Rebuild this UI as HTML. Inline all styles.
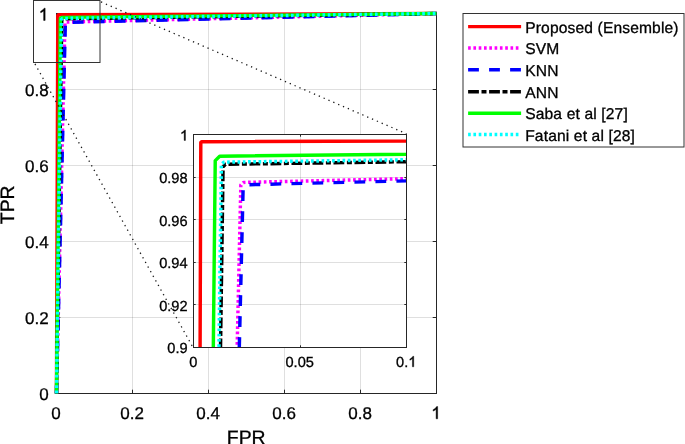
<!DOCTYPE html><html><head><meta charset="utf-8"><style>html,body{margin:0;padding:0;background:#fff;overflow:hidden}svg{display:block;will-change:transform}text{font-family:"Liberation Sans", sans-serif;text-rendering:geometricPrecision;stroke:#000;stroke-width:0.3px;fill:#000}</style></head><body>
<svg width="685" height="444" viewBox="0 0 685 444">
<rect x="0" y="0" width="685" height="444" fill="#fff"/>
<line x1="132.50" y1="13.50" x2="132.50" y2="393.50" stroke="#262626" stroke-opacity="0.15" stroke-width="1"/>
<line x1="56.50" y1="317.50" x2="436.50" y2="317.50" stroke="#262626" stroke-opacity="0.15" stroke-width="1"/>
<line x1="208.50" y1="13.50" x2="208.50" y2="393.50" stroke="#262626" stroke-opacity="0.15" stroke-width="1"/>
<line x1="56.50" y1="241.50" x2="436.50" y2="241.50" stroke="#262626" stroke-opacity="0.15" stroke-width="1"/>
<line x1="284.50" y1="13.50" x2="284.50" y2="393.50" stroke="#262626" stroke-opacity="0.15" stroke-width="1"/>
<line x1="56.50" y1="165.50" x2="436.50" y2="165.50" stroke="#262626" stroke-opacity="0.15" stroke-width="1"/>
<line x1="360.50" y1="13.50" x2="360.50" y2="393.50" stroke="#262626" stroke-opacity="0.15" stroke-width="1"/>
<line x1="56.50" y1="89.50" x2="436.50" y2="89.50" stroke="#262626" stroke-opacity="0.15" stroke-width="1"/>
<rect x="56.50" y="13.50" width="380.00" height="380.00" fill="none" stroke="#262626" stroke-width="1"/>
<line x1="56.50" y1="393.50" x2="56.50" y2="389.70" stroke="#262626"/>
<line x1="56.50" y1="13.50" x2="56.50" y2="17.30" stroke="#262626"/>
<line x1="56.50" y1="393.50" x2="60.30" y2="393.50" stroke="#262626"/>
<line x1="436.50" y1="393.50" x2="432.70" y2="393.50" stroke="#262626"/>
<line x1="132.50" y1="393.50" x2="132.50" y2="389.70" stroke="#262626"/>
<line x1="132.50" y1="13.50" x2="132.50" y2="17.30" stroke="#262626"/>
<line x1="56.50" y1="317.50" x2="60.30" y2="317.50" stroke="#262626"/>
<line x1="436.50" y1="317.50" x2="432.70" y2="317.50" stroke="#262626"/>
<line x1="208.50" y1="393.50" x2="208.50" y2="389.70" stroke="#262626"/>
<line x1="208.50" y1="13.50" x2="208.50" y2="17.30" stroke="#262626"/>
<line x1="56.50" y1="241.50" x2="60.30" y2="241.50" stroke="#262626"/>
<line x1="436.50" y1="241.50" x2="432.70" y2="241.50" stroke="#262626"/>
<line x1="284.50" y1="393.50" x2="284.50" y2="389.70" stroke="#262626"/>
<line x1="284.50" y1="13.50" x2="284.50" y2="17.30" stroke="#262626"/>
<line x1="56.50" y1="165.50" x2="60.30" y2="165.50" stroke="#262626"/>
<line x1="436.50" y1="165.50" x2="432.70" y2="165.50" stroke="#262626"/>
<line x1="360.50" y1="393.50" x2="360.50" y2="389.70" stroke="#262626"/>
<line x1="360.50" y1="13.50" x2="360.50" y2="17.30" stroke="#262626"/>
<line x1="56.50" y1="89.50" x2="60.30" y2="89.50" stroke="#262626"/>
<line x1="436.50" y1="89.50" x2="432.70" y2="89.50" stroke="#262626"/>
<line x1="436.50" y1="393.50" x2="436.50" y2="389.70" stroke="#262626"/>
<line x1="436.50" y1="13.50" x2="436.50" y2="17.30" stroke="#262626"/>
<line x1="56.50" y1="13.50" x2="60.30" y2="13.50" stroke="#262626"/>
<line x1="436.50" y1="13.50" x2="432.70" y2="13.50" stroke="#262626"/>
<text x="56.10" y="418.80" font-size="17.00" text-anchor="middle">0</text>
<text x="48.60" y="400.00" font-size="17.00" text-anchor="end">0</text>
<text x="132.10" y="418.80" font-size="17.00" text-anchor="middle">0.2</text>
<text x="48.60" y="324.00" font-size="17.00" text-anchor="end">0.2</text>
<text x="208.10" y="418.80" font-size="17.00" text-anchor="middle">0.4</text>
<text x="48.60" y="248.00" font-size="17.00" text-anchor="end">0.4</text>
<text x="284.10" y="418.80" font-size="17.00" text-anchor="middle">0.6</text>
<text x="48.60" y="172.00" font-size="17.00" text-anchor="end">0.6</text>
<text x="360.10" y="418.80" font-size="17.00" text-anchor="middle">0.8</text>
<text x="48.60" y="96.00" font-size="17.00" text-anchor="end">0.8</text>
<path d="M763 0L583 0L583 1147Q518 1085 412 1023Q306 961 222 930L222 1104Q373 1175 486 1276Q599 1377 646 1472L763 1472Z" transform="translate(431.30 418.80) scale(0.00830 -0.00830)" fill="#000" stroke="#000" stroke-width="54.2" stroke-linejoin="round"/>
<path d="M763 0L583 0L583 1147Q518 1085 412 1023Q306 961 222 930L222 1104Q373 1175 486 1276Q599 1377 646 1472L763 1472Z" transform="translate(38.80 20.40) scale(0.00830 -0.00830)" fill="#000" stroke="#000" stroke-width="54.2" stroke-linejoin="round"/>
<text x="246.20" y="443.60" font-size="19.40" text-anchor="middle">FPR</text>
<text x="0" y="0" font-size="19.40" text-anchor="middle" transform="translate(14.00,204.80) rotate(-90)">TPR</text>
<defs><clipPath id="mainclip"><rect x="53.50" y="10.50" width="386.00" height="386.00"/></clipPath>
<clipPath id="insclip"><rect x="193.50" y="134.50" width="213.00" height="213.00"/></clipPath></defs>
<path d="M56.50 393.50 L57.80 15.39 L58.40 14.79 L436.50 13.50" fill="none" stroke="#ff0000" stroke-width="3.45" stroke-linejoin="round"/>
<path d="M56.50 393.50 L64.93 23.06 L65.95 22.04 L436.50 13.50" fill="none" stroke="#ff00ff" stroke-width="3.45" stroke-linejoin="round" stroke-dasharray="2.65 2.6"/>
<path d="M56.50 393.50 L65.34 23.48 L66.37 22.45 L436.50 13.50" fill="none" stroke="#0000ff" stroke-width="3.45" stroke-linejoin="round" stroke-dasharray="10.8 10.2"/>
<path d="M56.50 393.50 L61.77 19.82 L62.78 18.81 L436.50 13.50" fill="none" stroke="#000000" stroke-width="3.45" stroke-linejoin="round" stroke-dasharray="10.8 2.6 5 2.6"/>
<path d="M56.50 393.50 L60.37 18.57 L61.59 17.36 L436.50 13.50" fill="none" stroke="#00ff00" stroke-width="3.45" stroke-linejoin="round"/>
<path d="M56.50 393.50 L61.46 19.44 L62.48 18.43 L436.50 13.50" fill="none" stroke="#00ffff" stroke-width="3.45" stroke-linejoin="round" stroke-dasharray="2.65 2.6" stroke-dashoffset="-0.30"/>
<rect x="33.5" y="0.5" width="66.5" height="62" fill="none" stroke="#333" stroke-width="1"/>
<line x1="100" y1="1.5" x2="406.5" y2="133.8" stroke="#1a1a1a" stroke-width="1.3" stroke-dasharray="1.3 3.97" stroke-dashoffset="-1.1"/>
<line x1="34.2" y1="62.5" x2="193.0" y2="347.5" stroke="#1a1a1a" stroke-width="1.3" stroke-dasharray="1.3 3.97" stroke-dashoffset="-1.65"/>
<rect x="193.50" y="134.50" width="213.00" height="213.00" fill="#fff"/>
<line x1="300.50" y1="134.50" x2="300.50" y2="347.50" stroke="#262626" stroke-opacity="0.15"/>
<line x1="193.50" y1="304.50" x2="406.50" y2="304.50" stroke="#262626" stroke-opacity="0.15"/>
<line x1="193.50" y1="262.50" x2="406.50" y2="262.50" stroke="#262626" stroke-opacity="0.15"/>
<line x1="193.50" y1="219.50" x2="406.50" y2="219.50" stroke="#262626" stroke-opacity="0.15"/>
<line x1="193.50" y1="177.50" x2="406.50" y2="177.50" stroke="#262626" stroke-opacity="0.15"/>
<path d="M193.50 2264.50 L200.80 142.54 L201.61 141.74 L2323.50 134.50" fill="none" stroke="#ff0000" stroke-width="3.45" stroke-linejoin="round" clip-path="url(#insclip)"/>
<path d="M193.50 2264.50 L240.83 185.09 L243.49 182.43 L2323.50 134.50" fill="none" stroke="#ff00ff" stroke-width="3.45" stroke-linejoin="round" stroke-dasharray="2.65 2.6" stroke-dashoffset="1.20" clip-path="url(#insclip)"/>
<path d="M193.50 2264.50 L243.13 187.41 L245.79 184.75 L2323.50 134.50" fill="none" stroke="#0000ff" stroke-width="3.45" stroke-linejoin="round" stroke-dasharray="10.8 10.2" stroke-dashoffset="-6.10" clip-path="url(#insclip)"/>
<path d="M193.50 2264.50 L223.07 166.72 L225.51 164.29 L2323.50 134.50" fill="none" stroke="#000000" stroke-width="3.45" stroke-linejoin="round" stroke-dasharray="10.8 2.6 5 2.6" stroke-dashoffset="-4.40" clip-path="url(#insclip)"/>
<path d="M193.50 2264.50 L215.24 160.60 L219.69 156.16 L2323.50 134.50" fill="none" stroke="#00ff00" stroke-width="3.45" stroke-linejoin="round" clip-path="url(#insclip)"/>
<path d="M193.50 2264.50 L221.37 164.59 L223.80 162.16 L2323.50 134.50" fill="none" stroke="#00ffff" stroke-width="3.45" stroke-linejoin="round" stroke-dasharray="2.65 2.6" stroke-dashoffset="-1.55" clip-path="url(#insclip)"/>
<rect x="193.50" y="134.50" width="213.00" height="213.00" fill="none" stroke="#262626" stroke-width="1"/>
<line x1="193.50" y1="347.50" x2="193.50" y2="345.30" stroke="#262626"/>
<line x1="193.50" y1="134.50" x2="193.50" y2="136.70" stroke="#262626"/>
<line x1="300.50" y1="347.50" x2="300.50" y2="345.30" stroke="#262626"/>
<line x1="300.50" y1="134.50" x2="300.50" y2="136.70" stroke="#262626"/>
<line x1="406.50" y1="347.50" x2="406.50" y2="345.30" stroke="#262626"/>
<line x1="406.50" y1="134.50" x2="406.50" y2="136.70" stroke="#262626"/>
<line x1="193.50" y1="347.50" x2="195.70" y2="347.50" stroke="#262626"/>
<line x1="406.50" y1="347.50" x2="404.30" y2="347.50" stroke="#262626"/>
<line x1="193.50" y1="304.50" x2="195.70" y2="304.50" stroke="#262626"/>
<line x1="406.50" y1="304.50" x2="404.30" y2="304.50" stroke="#262626"/>
<line x1="193.50" y1="262.50" x2="195.70" y2="262.50" stroke="#262626"/>
<line x1="406.50" y1="262.50" x2="404.30" y2="262.50" stroke="#262626"/>
<line x1="193.50" y1="219.50" x2="195.70" y2="219.50" stroke="#262626"/>
<line x1="406.50" y1="219.50" x2="404.30" y2="219.50" stroke="#262626"/>
<line x1="193.50" y1="177.50" x2="195.70" y2="177.50" stroke="#262626"/>
<line x1="406.50" y1="177.50" x2="404.30" y2="177.50" stroke="#262626"/>
<line x1="193.50" y1="134.50" x2="195.70" y2="134.50" stroke="#262626"/>
<line x1="406.50" y1="134.50" x2="404.30" y2="134.50" stroke="#262626"/>
<text x="193.20" y="366.80" font-size="14.60" text-anchor="middle">0</text>
<text x="299.70" y="366.80" font-size="14.60" text-anchor="middle">0.05</text>
<text x="396.10" y="366.80" font-size="14.60" fill="#262626">0.</text>
<path d="M763 0L583 0L583 1147Q518 1085 412 1023Q306 961 222 930L222 1104Q373 1175 486 1276Q599 1377 646 1472L763 1472Z" transform="translate(408.28 366.80) scale(0.00713 -0.00713)" fill="#000" stroke="#000" stroke-width="56.1" stroke-linejoin="round"/>
<text x="187.60" y="353.40" font-size="14.60" text-anchor="end">0.9</text>
<text x="187.60" y="310.80" font-size="14.60" text-anchor="end">0.92</text>
<text x="187.60" y="268.20" font-size="14.60" text-anchor="end">0.94</text>
<text x="187.60" y="225.60" font-size="14.60" text-anchor="end">0.96</text>
<text x="187.60" y="183.00" font-size="14.60" text-anchor="end">0.98</text>
<path d="M763 0L583 0L583 1147Q518 1085 412 1023Q306 961 222 930L222 1104Q373 1175 486 1276Q599 1377 646 1472L763 1472Z" transform="translate(180.00 140.40) scale(0.00713 -0.00713)" fill="#000" stroke="#000" stroke-width="56.1" stroke-linejoin="round"/>
<rect x="463" y="13.5" width="221" height="133.5" fill="#fff" stroke="#333" stroke-width="1"/>
<line x1="468.1" y1="26.60" x2="521.10" y2="26.60" stroke="#ff0000" stroke-width="3.45"/>
<text x="0" y="0" font-size="15.60" letter-spacing="0.14" transform="translate(525.2 32.70)">Proposed (Ensemble)</text>
<line x1="468.1" y1="48.00" x2="518.80" y2="48.00" stroke="#ff00ff" stroke-width="3.45" stroke-dasharray="2.65 2.65"/>
<text x="0" y="0" font-size="15.60" letter-spacing="0.14" transform="translate(525.2 54.10)">SVM</text>
<line x1="468.1" y1="69.80" x2="521.10" y2="69.80" stroke="#0000ff" stroke-width="3.45" stroke-dasharray="10.8 10.2"/>
<text x="0" y="0" font-size="15.60" letter-spacing="0.14" transform="translate(525.2 75.90)">KNN</text>
<line x1="468.1" y1="91.80" x2="521.10" y2="91.80" stroke="#000000" stroke-width="3.45" stroke-dasharray="10.8 2.6 5 2.6"/>
<text x="0" y="0" font-size="15.60" letter-spacing="0.14" transform="translate(525.2 97.90)">ANN</text>
<line x1="468.1" y1="113.20" x2="521.10" y2="113.20" stroke="#00ff00" stroke-width="3.45"/>
<text x="0" y="0" font-size="15.60" letter-spacing="0.14" transform="translate(525.2 119.30)">Saba et al [27]</text>
<line x1="468.1" y1="134.50" x2="518.80" y2="134.50" stroke="#00ffff" stroke-width="3.45" stroke-dasharray="2.65 2.65"/>
<text x="0" y="0" font-size="15.60" letter-spacing="0.14" transform="translate(525.2 140.60)">Fatani et al [28]</text>
</svg></body></html>
